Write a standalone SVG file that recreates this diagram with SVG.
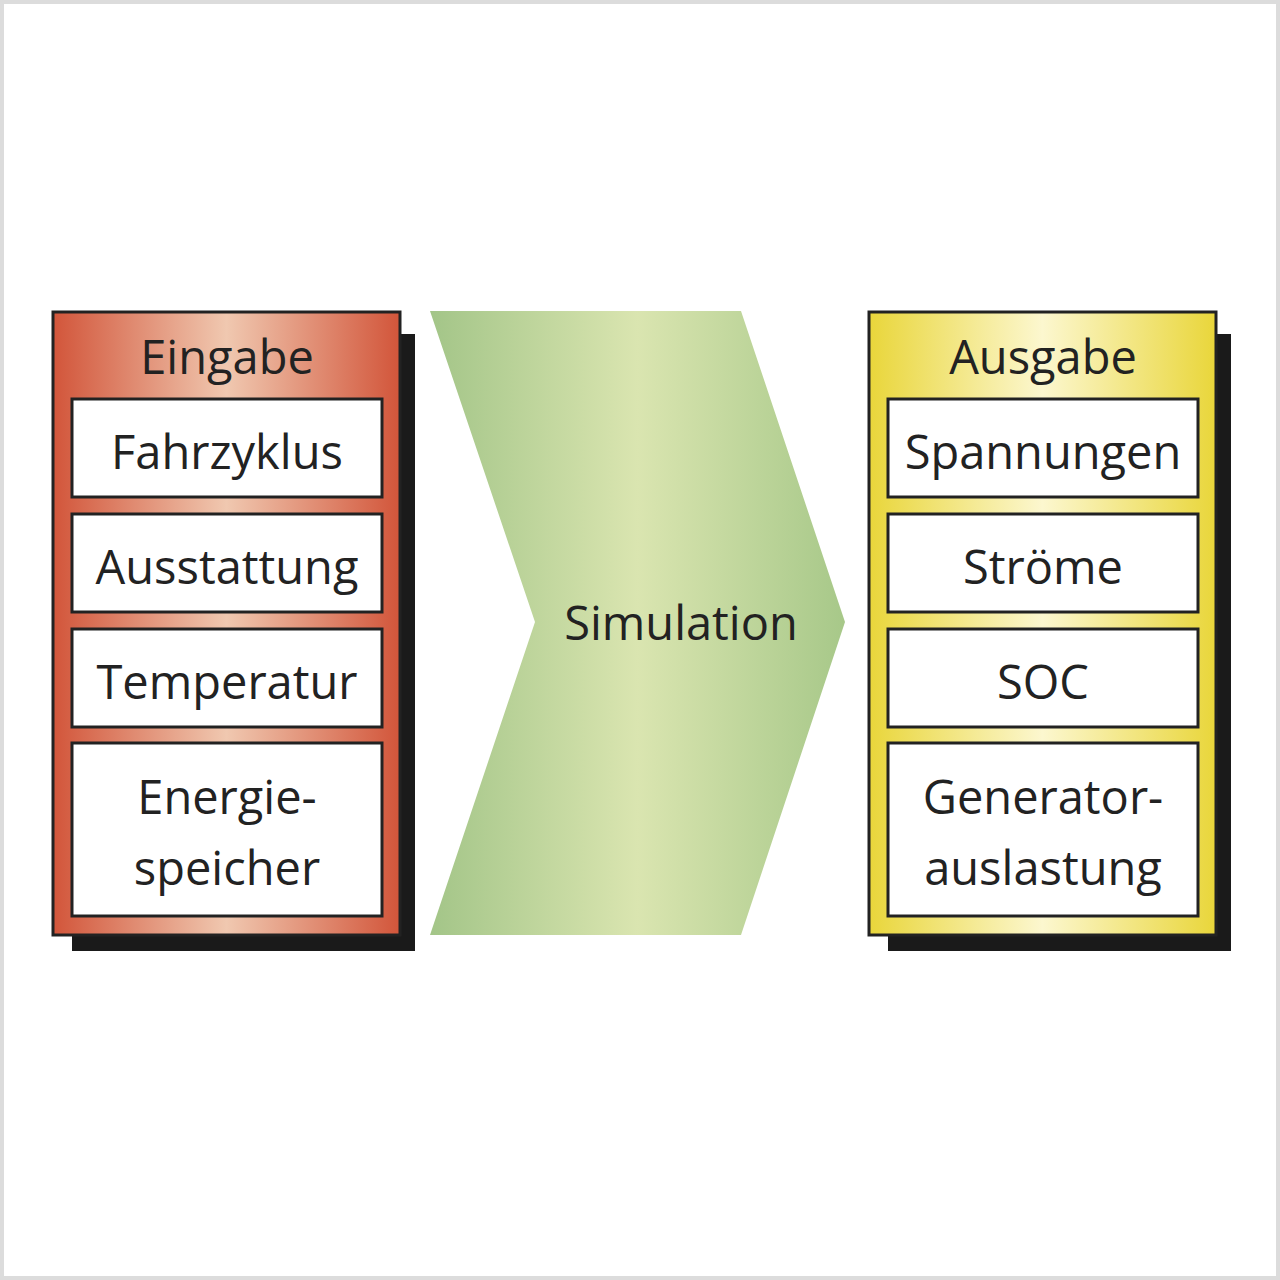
<svg xmlns="http://www.w3.org/2000/svg" width="1280" height="1280" viewBox="0 0 1280 1280">
<defs>
<linearGradient id="gRed" x1="0" y1="0" x2="1" y2="0">
<stop offset="0" stop-color="#d2553a"/>
<stop offset="0.5" stop-color="#f0c8b0"/>
<stop offset="1" stop-color="#d2553a"/>
</linearGradient>
<linearGradient id="gYel" x1="0" y1="0" x2="1" y2="0">
<stop offset="0" stop-color="#e9d63a"/>
<stop offset="0.5" stop-color="#fcf7cf"/>
<stop offset="1" stop-color="#e9d63a"/>
</linearGradient>
<linearGradient id="gGreen" x1="430" y1="0" x2="845" y2="0" gradientUnits="userSpaceOnUse">
<stop offset="0" stop-color="#a3c588"/>
<stop offset="0.5" stop-color="#dae5b0"/>
<stop offset="1" stop-color="#a7c889"/>
</linearGradient>
<style>
.shadow{fill:#1a1a1a}
.outer{stroke:#222;stroke-width:3}
.cell{fill:#fff;stroke:#222;stroke-width:3}
text{font-family:"Open Sans","Noto Sans","Liberation Sans",sans-serif;font-size:47px;fill:#222;text-anchor:middle}
</style>
</defs>
<rect x="0" y="0" width="1280" height="1280" fill="#fff"/>
<rect x="2" y="2" width="1276" height="1276" fill="none" stroke="#dcdcdc" stroke-width="4"/>

<g id="eingabe">
<rect class="shadow" x="72" y="334" width="343" height="617"/>
<rect class="outer" x="53" y="312" width="347" height="623" fill="url(#gRed)"/>
<text x="227" y="374">Eingabe</text>
<g id="fahrzyklus"><rect class="cell" x="72" y="399" width="310" height="98"/><text x="227" y="469">Fahrzyklus</text></g>
<g id="ausstattung"><rect class="cell" x="72" y="514" width="310" height="98"/><text x="227" y="584">Ausstattung</text></g>
<g id="temperatur"><rect class="cell" x="72" y="629" width="310" height="98"/><text x="227" y="699">Temperatur</text></g>
<g id="energiespeicher"><rect class="cell" x="72" y="743" width="310" height="173"/><text x="227" y="814">Energie-</text><text x="227" y="885">speicher</text></g>
</g>

<g id="simulation">
<polygon points="430,311 741,311 845,622 741,935 430,935 535,622" fill="url(#gGreen)"/>
<text x="681" y="640">Simulation</text>
</g>

<g id="ausgabe">
<rect class="shadow" x="888" y="334" width="343" height="617"/>
<rect class="outer" x="869" y="312" width="347" height="623" fill="url(#gYel)"/>
<text x="1043" y="374">Ausgabe</text>
<g id="spannungen"><rect class="cell" x="888" y="399" width="310" height="98"/><text x="1043" y="469">Spannungen</text></g>
<g id="stroeme"><rect class="cell" x="888" y="514" width="310" height="98"/><text x="1043" y="584">Ströme</text></g>
<g id="soc"><rect class="cell" x="888" y="629" width="310" height="98"/><text x="1043" y="699">SOC</text></g>
<g id="generatorauslastung"><rect class="cell" x="888" y="743" width="310" height="173"/><text x="1043" y="814">Generator-</text><text x="1043" y="885">auslastung</text></g>
</g>
<g id="connectors"/>
</svg>
